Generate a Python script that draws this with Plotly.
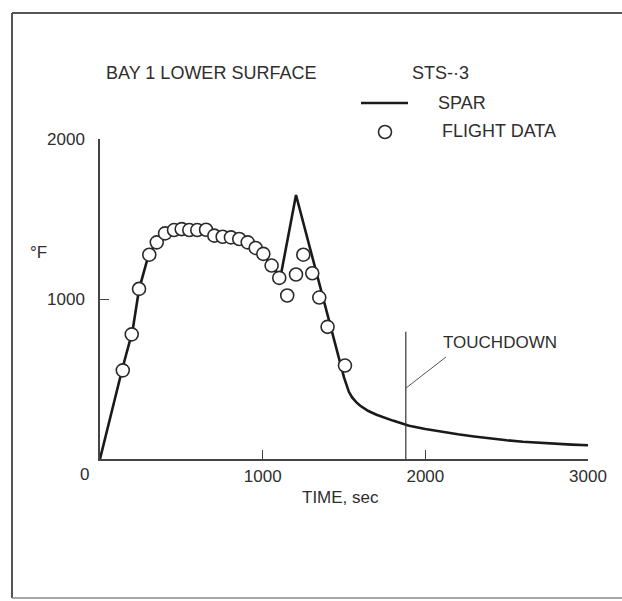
import plotly.graph_objects as go

# ---- data ----
spar_time = [0, 140, 200, 240, 300, 350, 400, 450, 500, 550, 600, 650, 700, 750, 800,
             850, 900, 950, 1000, 1050, 1110, 1205, 1310, 1400, 1500, 1530, 1550, 1575, 1600,
             1650, 1700, 1800, 1900, 2000, 2100, 2200, 2300, 2400, 2500, 2600, 2700,
             2800, 2900, 3000]
spar_temp = [0, 575, 800, 1060, 1280, 1360, 1410, 1432, 1440, 1437, 1434, 1430, 1405, 1392, 1386,
             1376, 1356, 1322, 1284, 1212, 1140, 1650, 1250, 895, 510, 420, 385, 355, 333,
             300, 277, 240, 208, 188, 170, 155, 141, 128, 117, 108, 101,
             95, 90, 86]

flight_time = [140, 195, 240, 303, 349, 400, 455, 502, 549, 598, 652, 703, 754, 805,
               856, 908, 957, 1004, 1055, 1102, 1151, 1205, 1250, 1305, 1348, 1399, 1506]
flight_temp = [554, 779, 1063, 1277, 1354, 1410, 1431, 1437, 1431, 1431, 1433, 1396, 1389, 1385,
               1375, 1354, 1319, 1282, 1209, 1132, 1022, 1153, 1277, 1161, 1009, 826, 584]

x_ticks = [1000, 2000, 3000]
y_ticks = [1000, 2000]
touchdown_time = 1880
touchdown_line_top = 795

TXT = "#2e2e2e"
FONT = "Liberation Sans, Arial, sans-serif"

W, H = 622, 601
L, R, T, B = 100, 34, 139, 142
PW, PH = W - L - R, H - T - B


def px(x):
    return (x - L) / PW


def py(y):
    return (H - B - y) / PH


fig = go.Figure()

fig.add_trace(go.Scatter(
    x=spar_time, y=spar_temp, mode="lines",
    line=dict(color="#1a1a1a", width=2.6),
    showlegend=False, hoverinfo="skip"))

fig.add_trace(go.Scatter(
    x=flight_time, y=flight_temp, mode="markers",
    marker=dict(symbol="circle", size=13, color="white",
                line=dict(color="#2a2a2a", width=1.6)),
    showlegend=False, hoverinfo="skip"))

# touchdown marker line
fig.add_trace(go.Scatter(
    x=[touchdown_time, touchdown_time], y=[0, touchdown_line_top], mode="lines",
    line=dict(color="#333", width=1.2), showlegend=False, hoverinfo="skip",
    cliponaxis=False))

shapes = []
# outer frame
shapes.append(dict(type="line", xref="paper", yref="paper",
                   x0=px(12), y0=py(13), x1=px(640), y1=py(13),
                   line=dict(color="#555", width=2)))
shapes.append(dict(type="line", xref="paper", yref="paper",
                   x0=px(12), y0=py(13), x1=px(12), y1=py(598),
                   line=dict(color="#555", width=2)))
shapes.append(dict(type="line", xref="paper", yref="paper",
                   x0=px(12), y0=py(598), x1=px(640), y1=py(598),
                   line=dict(color="#888", width=1.5)))
# touchdown leader
shapes.append(dict(type="line", xref="paper", yref="paper",
                   x0=px(446), y0=py(357), x1=px(406), y1=py(388),
                   line=dict(color="#555", width=1)))
# legend symbols
shapes.append(dict(type="line", xref="paper", yref="paper",
                   x0=px(361), y0=py(103), x1=px(408), y1=py(103),
                   line=dict(color="#1a1a1a", width=2.6)))
shapes.append(dict(type="circle", xref="paper", yref="paper",
                   x0=px(378.5), y0=py(125.5), x1=px(391.5), y1=py(138.5),
                   line=dict(color="#2a2a2a", width=1.6), fillcolor="white"))

def ann(text, x, y, size=17, xanchor="center"):
    return dict(text=text, xref="paper", yref="paper", x=px(x), y=py(y),
                xanchor=xanchor, yanchor="middle", showarrow=False,
                font=dict(family=FONT, size=size, color=TXT))

annotations = [
    ann("BAY 1 LOWER SURFACE", 104, 73, size=18, xanchor="left"),
    ann("STS-·3", 410, 73, size=18, xanchor="left"),
    ann("SPAR", 436, 103, size=18, xanchor="left"),
    ann("FLIGHT DATA", 440, 131, size=18, xanchor="left"),
    ann("TOUCHDOWN", 441, 342, size=17, xanchor="left"),
    ann("°F", 38, 252, size=17),
    ann("0", 84, 474, size=17),
    ann("TIME, sec", 340, 497, size=17),
]

fig.update_layout(
    width=W, height=H,
    margin=dict(l=L, r=R, t=T, b=B, pad=0),
    paper_bgcolor="white", plot_bgcolor="white",
    shapes=shapes, annotations=annotations,
    font=dict(family=FONT, size=17, color=TXT),
    xaxis=dict(range=[0, 3000], tickvals=x_ticks, ticktext=[str(v) for v in x_ticks],
               ticks="inside", ticklen=9, tickwidth=1.3, tickcolor="#444",
               showline=True, linecolor="#444", linewidth=1.5,
               showgrid=False, zeroline=False, fixedrange=True,
               ticklabelstandoff=1),
    yaxis=dict(range=[0, 2000], tickvals=y_ticks, ticktext=[str(v) for v in y_ticks],
               ticks="inside", ticklen=9, tickwidth=1.3, tickcolor="#444",
               showline=True, linecolor="#444", linewidth=1.5,
               showgrid=False, zeroline=False, fixedrange=True,
               ticklabelstandoff=10),
)

fig.write_html("out.html")
